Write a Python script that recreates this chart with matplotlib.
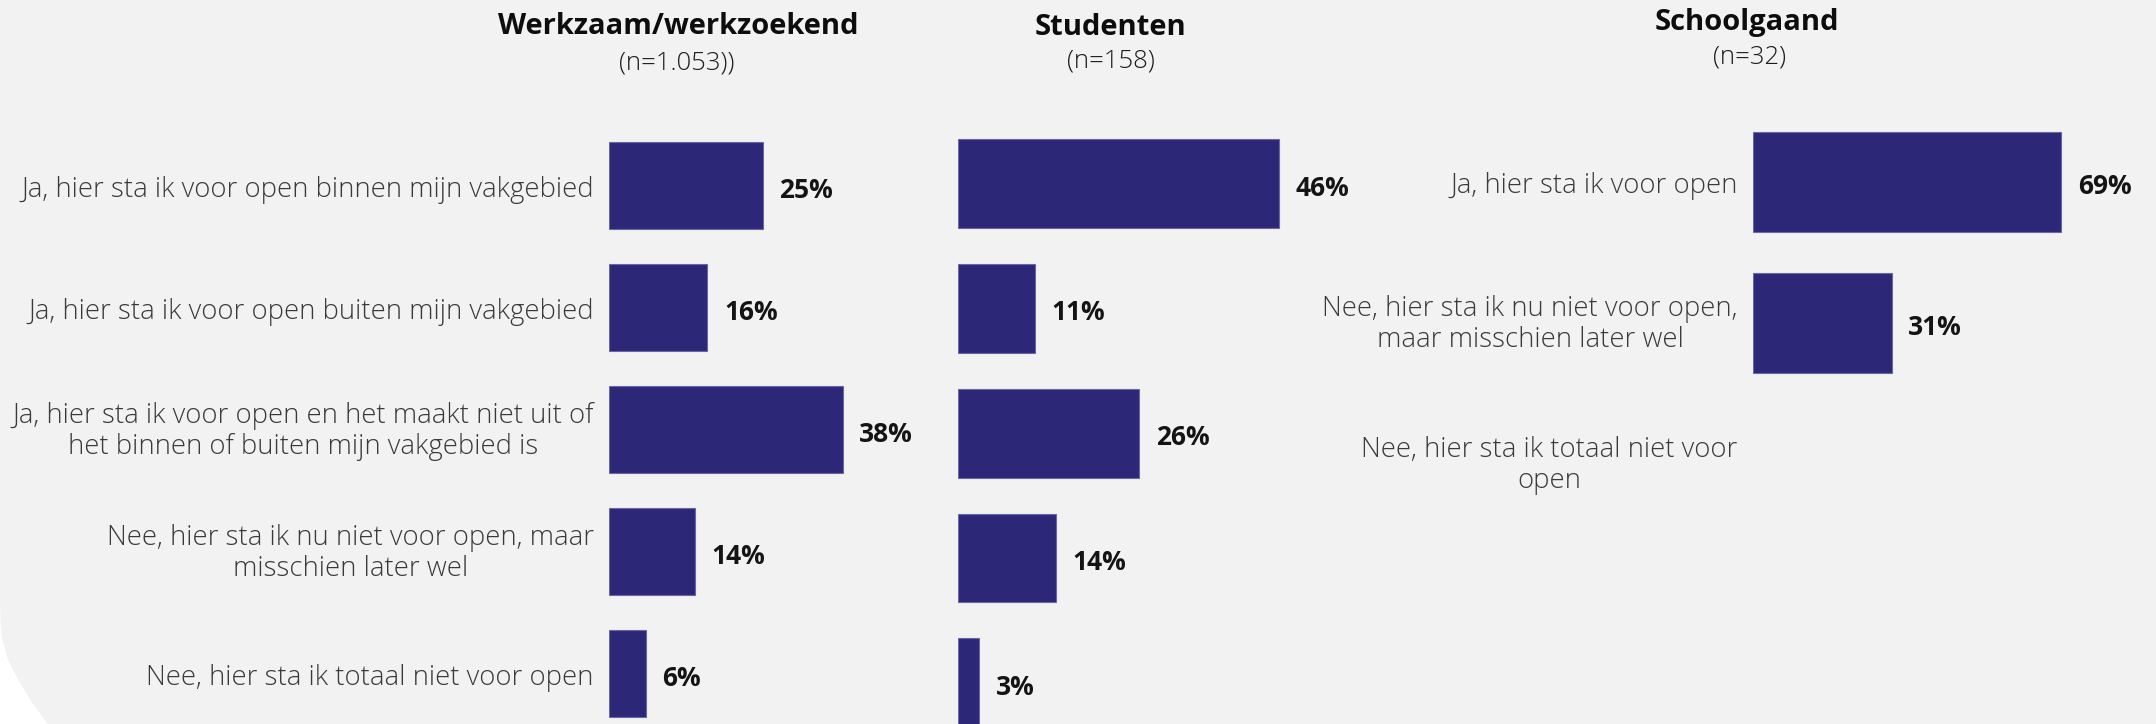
import matplotlib
matplotlib.use("Agg")
import matplotlib.pyplot as plt
from matplotlib.patches import Polygon
import numpy as np

# ---------------- data ----------------
labels_main = [
    "Ja, hier sta ik voor open binnen mijn vakgebied",
    "Ja, hier sta ik voor open buiten mijn vakgebied",
    "Ja, hier sta ik voor open en het maakt niet uit of\nhet binnen of buiten mijn vakgebied is",
    "Nee, hier sta ik nu niet voor open, maar\nmisschien later wel",
    "Nee, hier sta ik totaal niet voor open",
]
werkzaam = [25, 16, 38, 14, 6]
studenten = [46, 11, 26, 14, 3]

labels_school = [
    "Ja, hier sta ik voor open",
    "Nee, hier sta ik nu niet voor open,\nmaar misschien later wel",
    "Nee, hier sta ik totaal niet voor\nopen",
]
schoolgaand = [69, 31, None]

titles = ["Werkzaam/werkzoekend", "Studenten", "Schoolgaand"]
subtitles = ["(n=1.053))", "(n=158)", "(n=32)"]

# ---------------- style ----------------
W, H = 2156, 724
BG = "#f2f2f2"
BAR = "#2c2877"
EDGE = "#6a67a8"
LABEL_C = "#3a3a3a"
VAL_C = "#141414"
FONT = "Open Sans"

fig = plt.figure(figsize=(W / 100, H / 100), dpi=100, facecolor=BG)

# white rounded corner, bottom-left
corner_px = [(0, 600), (0.5, 620), (1.7, 637), (8, 660), (20, 683), (33, 704), (48, 724), (0, 724)]
fig.patches.append(Polygon([(x / W, 1 - y / H) for x, y in corner_px], closed=True,
                           transform=fig.transFigure, facecolor="white", edgecolor="none"))


def make_ax(left_px, px_per_unit, xmax, first_center_px, spacing_px, n):
    top = first_center_px - spacing_px / 2
    height = spacing_px * n
    width = px_per_unit * xmax
    ax = fig.add_axes([left_px / W, 1 - (top + height) / H, width / W, height / H])
    ax.set_xlim(0, xmax)
    ax.set_ylim(n - 0.5, -0.5)
    ax.axis("off")
    ax.patch.set_visible(False)
    return ax


def draw(ax, values, labels=None):
    y = np.arange(len(values))
    for yi, v in zip(y, values):
        if v is None:
            continue
        ax.barh(yi, v, height=0.713, color=BAR, edgecolor=EDGE, linewidth=0.8)
        ax.annotate(f"{v}%", xy=(v, yi), xytext=(12, -3.2), textcoords="offset points",
                    ha="left", va="center", fontsize=19, fontweight="bold",
                    color=VAL_C, family=FONT)
    if labels is not None:
        for yi, lab in zip(y, labels):
            dy = -1 if "\n" in lab else -3
            ax.annotate(lab, xy=(0, yi), xytext=(-11, dy), textcoords="offset points",
                        ha="right", va="center", multialignment="center",
                        fontsize=19.8, fontweight="light", color=LABEL_C, family=FONT,
                        linespacing=1.15)


ax1 = make_ax(609, 6.15, 50, 185.8, 122.0, 5)
draw(ax1, werkzaam, labels_main)

ax2 = make_ax(958, 6.97, 50, 183.6, 124.8, 5)
draw(ax2, studenten)

ax3 = make_ax(1753, 4.47, 75, 182.2, 140.8, 3)
draw(ax3, schoolgaand, labels_school)

# titles
title_pos = [(678, 34), (1111, 35), (1747, 30)]
sub_pos = [(677, 70), (1111, 68), (1750, 64)]
for t, (x, y) in zip(titles, title_pos):
    fig.text(x / W, 1 - y / H, t, ha="center", va="baseline", fontsize=21,
             fontweight="bold", color="#0d0d0d", family=FONT)
for s, (x, y) in zip(subtitles, sub_pos):
    fig.text(x / W, 1 - y / H, s, ha="center", va="baseline", fontsize=18.5,
             fontweight="light", color="#1e1e1e", family=FONT)

fig.savefig("out.png", dpi=100, facecolor=BG)
